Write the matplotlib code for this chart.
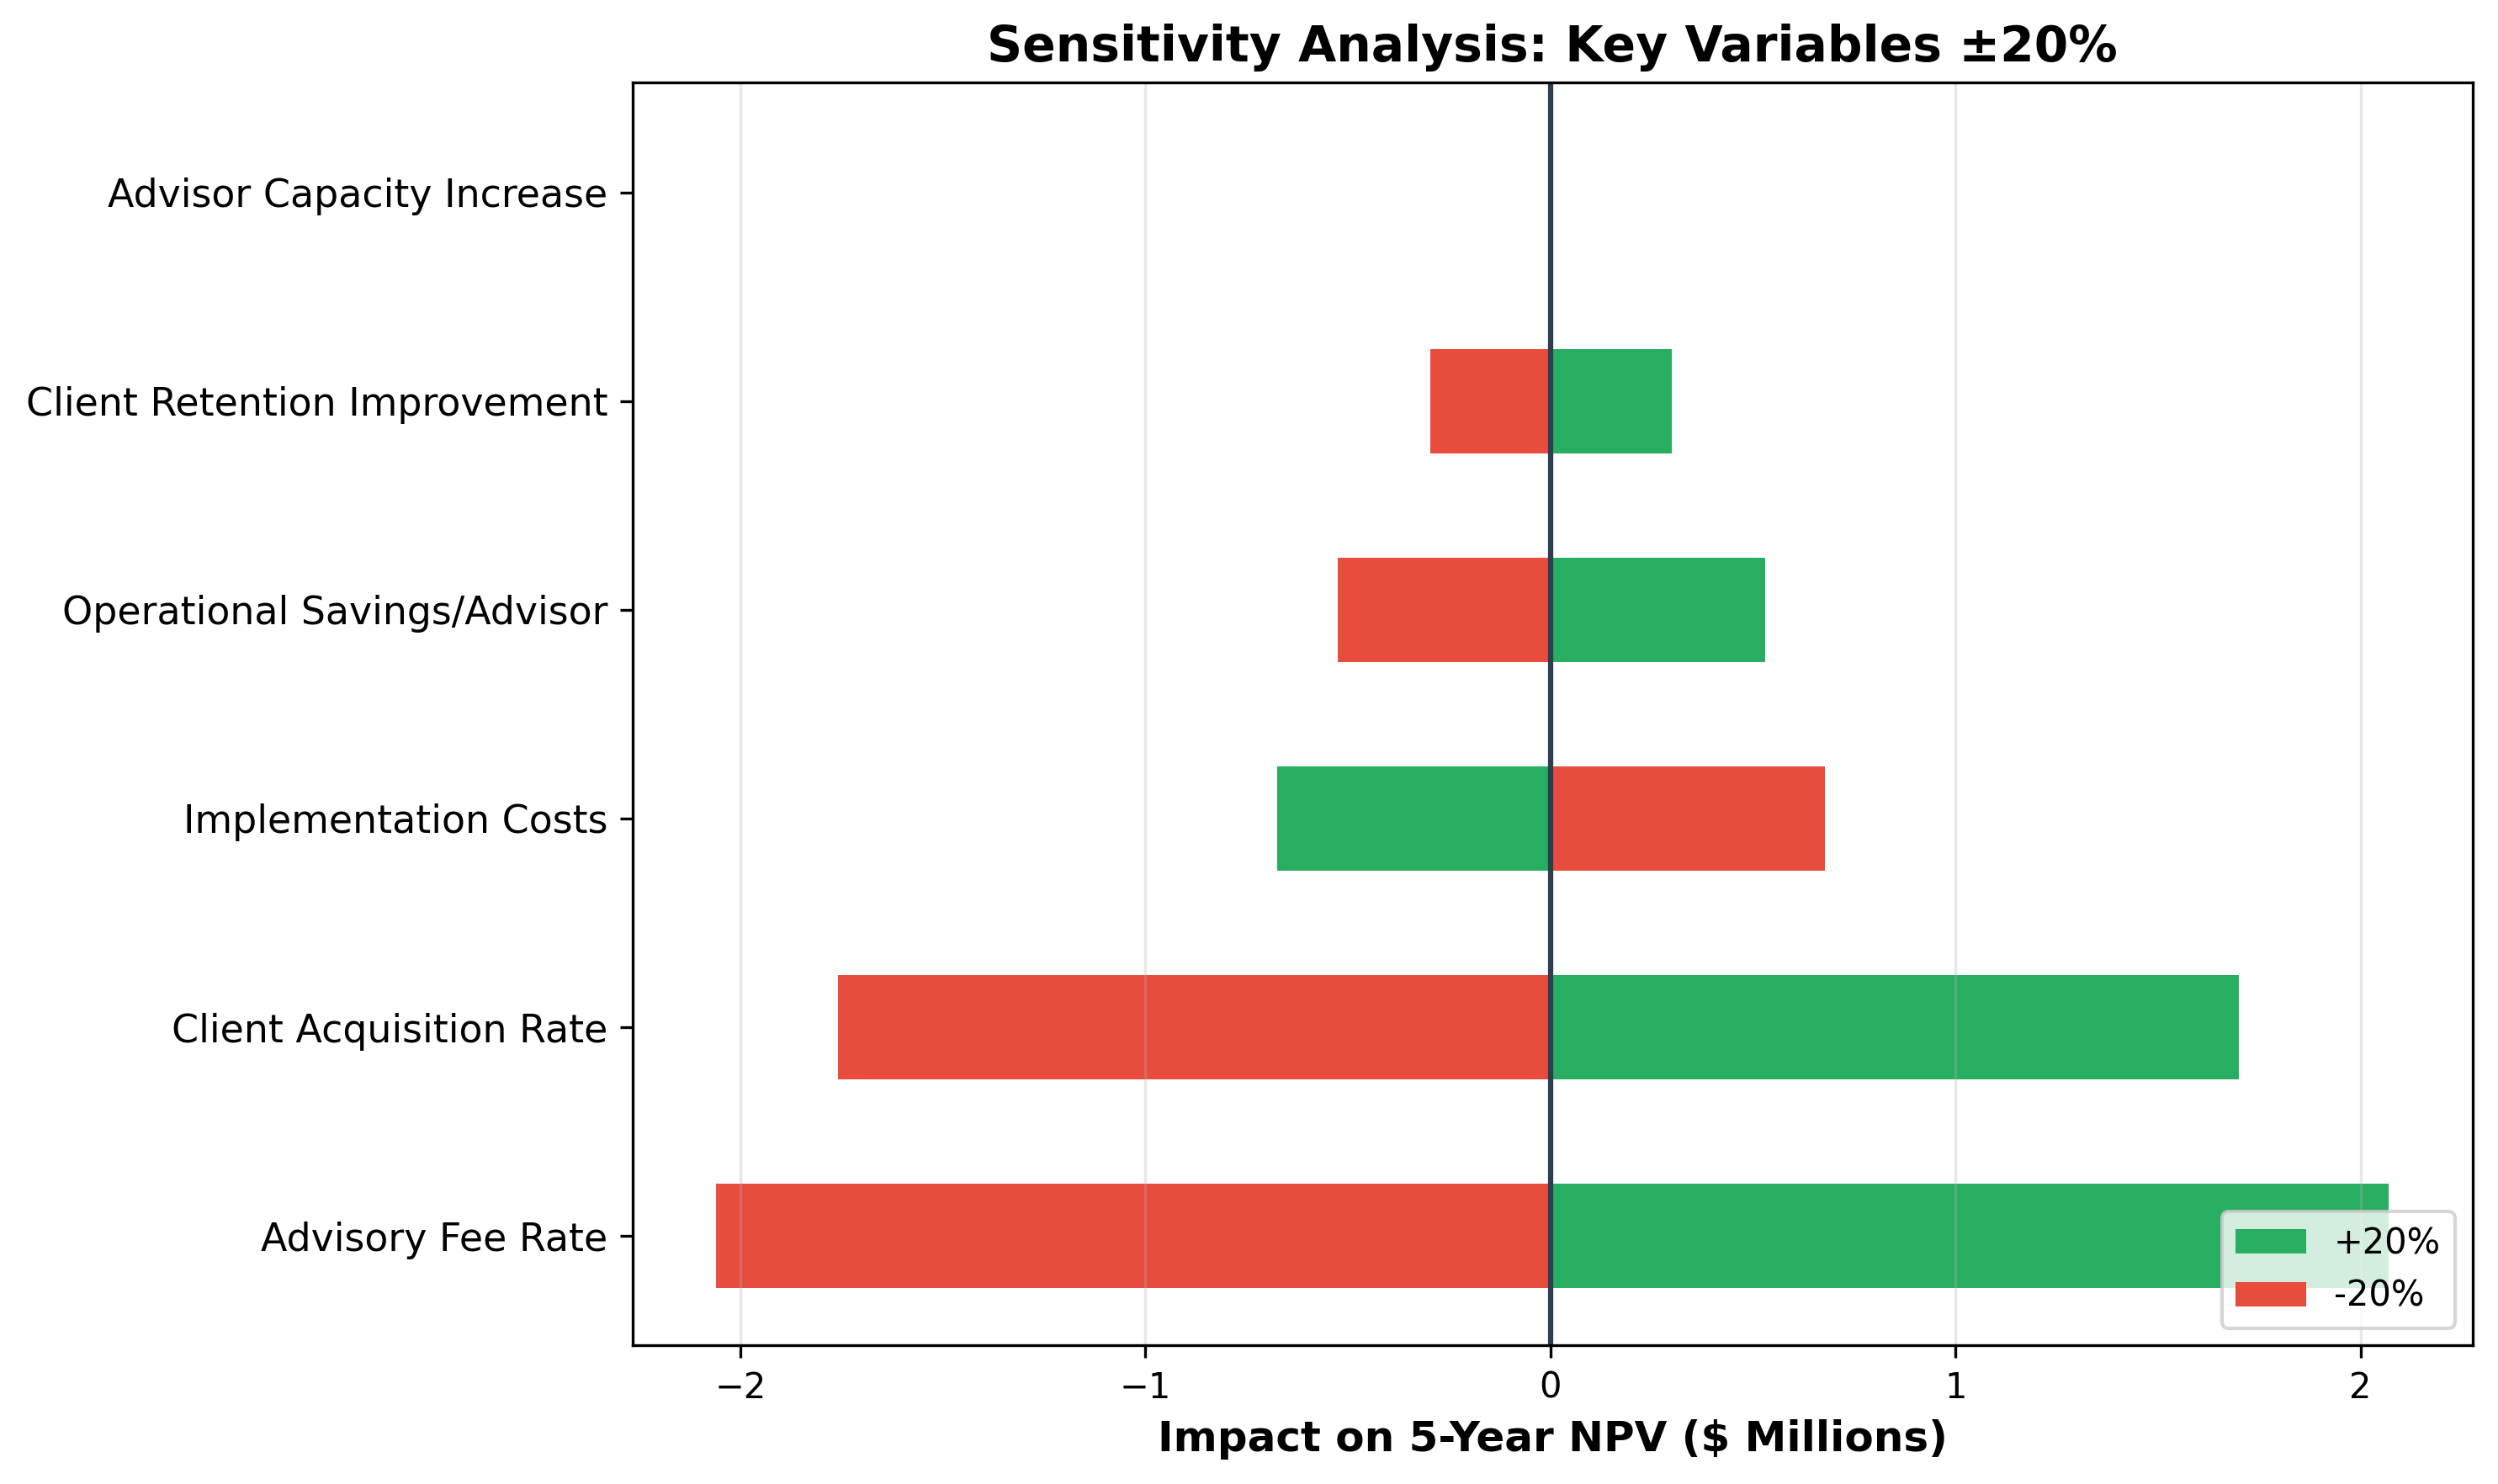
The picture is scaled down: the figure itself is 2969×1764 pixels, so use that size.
import numpy as np
import matplotlib
matplotlib.use('Agg')
import matplotlib.pyplot as plt

# sensitivity of 5-year NPV ($M) to +/-20% swings
variables = ['Advisory Fee Rate', 'Client Acquisition Rate', 'Implementation Costs',
             'Operational Savings/Advisor', 'Client Retention Improvement',
             'Advisor Capacity Increase']
plus_20 = [2.07, 1.70, -0.675, 0.53, 0.30, 0.0]
minus_20 = [-2.06, -1.76, 0.678, -0.526, -0.297, 0.0]

green = '#27ae60'
red = '#e74c3c'

fig, ax = plt.subplots(figsize=(2969 / 300, 1764 / 300), dpi=300)
y = np.arange(len(variables))

ax.barh(y, plus_20, height=0.5, color=green, label='+20%')
ax.barh(y, minus_20, height=0.5, color=red, label='-20%')
ax.axvline(0, color='#2c3e50', linewidth=1.5)

ax.set_yticks(y)
ax.set_yticklabels(variables, fontsize=11)
ax.tick_params(axis='x', labelsize=10)
ax.set_xlabel('Impact on 5-Year NPV ($ Millions)', fontsize=12, fontweight='bold')
ax.set_title('Sensitivity Analysis: Key Variables ±20%', fontsize=14, fontweight='bold')
ax.grid(True, axis='x', alpha=0.3)
ax.legend(loc='lower right', fontsize=10)

plt.subplots_adjust(left=0.2532, right=0.9898, top=0.9442, bottom=0.0933)
plt.savefig('out.png', dpi=300)
